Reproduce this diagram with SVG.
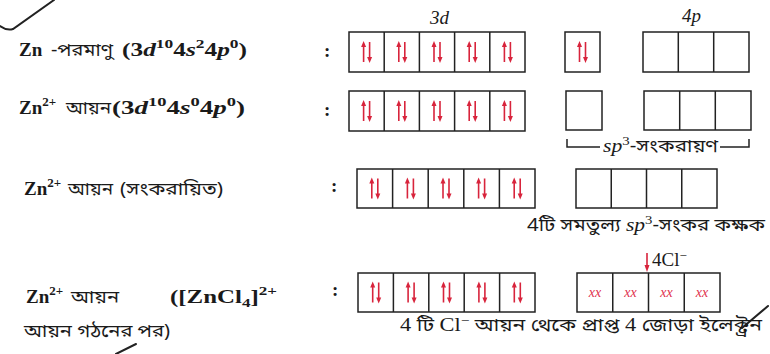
<svg xmlns="http://www.w3.org/2000/svg" width="770" height="354" viewBox="0 0 770 354">
<style>
.bx{fill:none;stroke:#222;stroke-width:1.5}
.lbl{font-family:"Liberation Serif","DejaVu Serif",serif;font-size:19px;fill:#1a1a1a}
.b{font-weight:bold}
.bn{font-family:"Noto Sans Bengali","Noto Serif Bengali","Lohit Bengali","FreeSerif","Liberation Serif",serif;font-size:18px;fill:#1a1a1a}
.it{font-style:italic}
.sup{font-size:13px}
.xx{font-family:"Liberation Serif",serif;font-style:italic;font-size:14px;fill:#e0304c}
.scr{fill:none;stroke:#222;stroke-width:2;stroke-linecap:round}
</style>
<defs>
<g id="pair">
<line x1="-3" y1="-8" x2="-3" y2="10" stroke="#d8243c" stroke-width="1.6"/>
<path d="M-3,-11 L-5.5,-5 L-0.5,-5 Z" fill="#d8243c"/>
<line x1="3" y1="-10" x2="3" y2="8" stroke="#d8243c" stroke-width="1.6"/>
<path d="M3,11 L0.5,5 L5.5,5 Z" fill="#d8243c"/>
</g>
</defs>

<!-- scan artifacts -->
<path class="scr" d="M0,26 Q7,31 13,29 L54,0"/>
<path class="scr" d="M116,354 L136,344"/>
<path class="scr" d="M742,328 L768,306"/>

<!-- headers -->
<text class="lbl it" x="430" y="24" font-size="18">3d</text>
<text class="lbl it" x="682" y="22" font-size="15" fill="#444">4p</text>

<!-- Row 1 -->
<g id="row1">
<text class="lbl b" x="19" y="56">Zn</text>
<text class="bn" x="51" y="56" textLength="62" lengthAdjust="spacingAndGlyphs">-পরমাণু</text>
<text class="lbl b" x="122" y="56" textLength="125" lengthAdjust="spacingAndGlyphs">(3<tspan class="it">d</tspan><tspan class="sup" dy="-8">10</tspan><tspan dy="8">4</tspan><tspan class="it">s</tspan><tspan class="sup" dy="-8">2</tspan><tspan dy="8">4</tspan><tspan class="it">p</tspan><tspan class="sup" dy="-8">0</tspan><tspan dy="8">)</tspan></text>
<text class="lbl b" x="324" y="57">:</text>
<rect class="bx" x="349" y="32" width="176" height="40"/>
<path class="bx" d="M384.2,32V72M419.4,32V72M454.6,32V72M489.8,32V72"/>
<use href="#pair" x="366.6" y="52"/><use href="#pair" x="401.8" y="52"/><use href="#pair" x="437" y="52"/><use href="#pair" x="472.2" y="52"/><use href="#pair" x="507.4" y="52"/>
<rect class="bx" x="565" y="32" width="35" height="40"/>
<use href="#pair" x="582.5" y="52"/>
<rect class="bx" x="643" y="32" width="106" height="40"/>
<path class="bx" d="M678.3,32V72M713.7,32V72"/>
</g>

<!-- Row 2 -->
<g id="row2">
<text class="lbl b" x="19" y="114">Zn<tspan class="sup" dy="-8">2+</tspan></text>
<text class="bn" x="66" y="114" textLength="45" lengthAdjust="spacingAndGlyphs">আয়ন</text>
<text class="lbl b" x="112" y="114" textLength="133" lengthAdjust="spacingAndGlyphs">(3<tspan class="it">d</tspan><tspan class="sup" dy="-8">10</tspan><tspan dy="8">4</tspan><tspan class="it">s</tspan><tspan class="sup" dy="-8">0</tspan><tspan dy="8">4</tspan><tspan class="it">p</tspan><tspan class="sup" dy="-8">0</tspan><tspan dy="8">)</tspan></text>
<text class="lbl b" x="324" y="116">:</text>
<rect class="bx" x="349" y="91" width="176" height="40"/>
<path class="bx" d="M384.2,91V131M419.4,91V131M454.6,91V131M489.8,91V131"/>
<use href="#pair" x="366.6" y="111"/><use href="#pair" x="401.8" y="111"/><use href="#pair" x="437" y="111"/><use href="#pair" x="472.2" y="111"/><use href="#pair" x="507.4" y="111"/>
<rect class="bx" x="566" y="91" width="36" height="39"/>
<rect class="bx" x="644" y="91" width="107" height="39"/>
<path class="bx" d="M679.7,91V130M715.3,91V130"/>
<path class="bx" d="M567,139V147H600M720,147H749V139"/>
<text class="lbl it" x="603" y="152" textLength="115" lengthAdjust="spacingAndGlyphs">sp<tspan class="sup" dy="-7" font-style="normal">3</tspan><tspan class="bn" dy="7" font-style="normal">-সংকরায়ণ</tspan></text>
</g>

<!-- Row 3 -->
<g id="row3">
<text class="lbl b" x="24" y="195">Zn<tspan class="sup" dy="-8">2+</tspan></text>
<text class="bn" x="68" y="195" textLength="45" lengthAdjust="spacingAndGlyphs">আয়ন</text>
<text class="bn" x="120" y="195" textLength="103" lengthAdjust="spacingAndGlyphs">(সংকরায়িত)</text>
<text class="lbl b" x="331" y="192">:</text>
<rect class="bx" x="357" y="169" width="178" height="39"/>
<path class="bx" d="M392.6,169V208M428.2,169V208M463.8,169V208M499.4,169V208"/>
<use href="#pair" x="374.8" y="188.5"/><use href="#pair" x="410.4" y="188.5"/><use href="#pair" x="446" y="188.5"/><use href="#pair" x="481.6" y="188.5"/><use href="#pair" x="517.2" y="188.5"/>
<rect class="bx" x="576" y="169" width="141" height="39"/>
<path class="bx" d="M611.25,169V208M646.5,169V208M681.75,169V208"/>
<text class="bn" x="527" y="231" textLength="238" lengthAdjust="spacingAndGlyphs">4টি সমতুল্য <tspan class="lbl it" font-size="18">sp</tspan><tspan class="lbl sup" dy="-7">3</tspan><tspan dy="7">-সংকর কক্ষক</tspan></text>
</g>

<!-- Row 4 -->
<g id="row4">
<text class="lbl b" x="26" y="303">Zn<tspan class="sup" dy="-8">2+</tspan></text>
<text class="bn" x="71" y="303" textLength="48" lengthAdjust="spacingAndGlyphs">আয়ন</text>
<text class="lbl b" x="170" y="303" textLength="107" lengthAdjust="spacingAndGlyphs">([ZnCl<tspan class="sup" dy="4">4</tspan><tspan dy="-4">]</tspan><tspan class="sup" dy="-8">2+</tspan></text>
<text class="bn" x="24" y="337" textLength="146" lengthAdjust="spacingAndGlyphs">আয়ন গঠনের পর)</text>
<text class="lbl b" x="332" y="296">:</text>
<rect class="bx" x="358" y="273" width="177" height="39"/>
<path class="bx" d="M393.4,273V312M428.8,273V312M464.2,273V312M499.6,273V312"/>
<use href="#pair" x="375.7" y="292.5"/><use href="#pair" x="411.1" y="292.5"/><use href="#pair" x="446.5" y="292.5"/><use href="#pair" x="481.9" y="292.5"/><use href="#pair" x="517.3" y="292.5"/>
<rect class="bx" x="577" y="273" width="143" height="39"/>
<path class="bx" d="M612.75,273V312M648.5,273V312M684.25,273V312"/>
<text class="xx" x="595" y="297" text-anchor="middle">xx</text>
<text class="xx" x="630.5" y="297" text-anchor="middle">xx</text>
<text class="xx" x="666.5" y="297" text-anchor="middle">xx</text>
<text class="xx" x="702" y="297" text-anchor="middle">xx</text>
<line x1="647" y1="253" x2="647" y2="266" stroke="#d8243c" stroke-width="1.6"/>
<path d="M647,272 L644.5,265 L649.5,265 Z" fill="#d8243c"/>
<text class="lbl" x="652" y="266" font-size="15">4Cl<tspan class="sup" dy="-6">−</tspan></text>
<text class="lbl" x="400" y="331" font-size="17" textLength="362" lengthAdjust="spacingAndGlyphs">4 <tspan class="bn">টি</tspan> Cl<tspan class="sup" dy="-6">−</tspan><tspan class="bn" dy="6"> আয়ন থেকে প্রাপ্ত </tspan>4<tspan class="bn"> জোড়া ইলেক্ট্রন</tspan></text>
</g>
</svg>
